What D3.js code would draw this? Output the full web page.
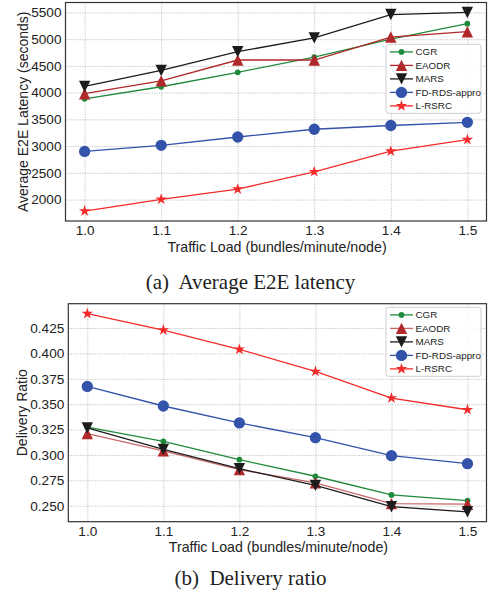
<!DOCTYPE html>
<html lang="en">
<head>
<meta charset="UTF-8">
<title>Latency and delivery ratio</title>
<script src="https://cdn.jsdelivr.net/npm/d3@7"></script>
<style>
  body { margin: 0; background: #fff; }
  svg { display: block; }
  text { fill: #222; }
</style>
</head>
<body>
<svg id="chart" width="488" height="595"></svg>
<script>
// x categories
const loads = [1.0, 1.1, 1.2, 1.3, 1.4, 1.5];
const seriesNames = ["CGR", "EAODR", "MARS", "FD-RDS-appro", "L-RSRC"];

// (a) average E2E latency, seconds
const latencyCGR   = [3885, 4110, 4380, 4665, 5000, 5290];
const latencyEAODR = [3980, 4220, 4610, 4610, 5040, 5140];
const latencyMARS  = [4115, 4415, 4765, 5025, 5460, 5500];
const latencyFD    = [2900, 3015, 3170, 3315, 3385, 3445];
const latencyLRSRC = [1785, 2005, 2195, 2520, 2905, 3120];
const latencyTicks = [2000, 2500, 3000, 3500, 4000, 4500, 5000, 5500];

// (b) delivery ratio
const ratioCGR   = [0.3273, 0.3134, 0.2953, 0.2790, 0.2606, 0.2550];
const ratioEAODR = [0.3210, 0.3040, 0.2855, 0.2725, 0.2520, 0.2515];
const ratioMARS  = [0.3267, 0.3055, 0.2865, 0.2700, 0.2490, 0.2440];
const ratioFD    = [0.3675, 0.3482, 0.3315, 0.3170, 0.2993, 0.2914];
const ratioLRSRC = [0.4392, 0.4230, 0.4040, 0.3822, 0.3560, 0.3445];
const ratioTicks = [0.250, 0.275, 0.300, 0.325, 0.350, 0.375, 0.400, 0.425];

// matplotlib style triangles (square bounding box)
const triUp = { draw(ctx, size) { const r = Math.sqrt(size) / 2;
  ctx.moveTo(0, -r); ctx.lineTo(r, r); ctx.lineTo(-r, r); ctx.closePath(); } };
const triDown = { draw(ctx, size) { const r = Math.sqrt(size) / 2;
  ctx.moveTo(0, r); ctx.lineTo(r, -r); ctx.lineTo(-r, -r); ctx.closePath(); } };

const styles = [
  { color: "#1f8a3b", type: d3.symbolCircle, size: 26 },
  { color: "#b0282a", type: triUp, size: 130 },
  { color: "#1c1c1c", type: triDown, size: 130 },
  { color: "#3353ab", type: d3.symbolCircle, size: 100 },
  { color: "#f42a2a", type: d3.symbolStar, size: 40 }
];

const svg = d3.select("#chart");
const font = "'Liberation Sans', Arial, sans-serif";

function panel(opt) {
  const { left, right, top, bottom } = opt.box;
  const all = opt.series.flat();
  const lo = d3.min(all), hi = d3.max(all), pad = (hi - lo) * 0.05;

  const x = d3.scaleLinear().domain([0.975, 1.525]).range([left, right]);
  const y = d3.scaleLinear().domain([lo - pad, hi + pad]).range([bottom, top]);

  const g = svg.append("g");

  // grid
  g.append("g").attr("transform", `translate(0,${bottom})`)
    .call(d3.axisBottom(x).tickValues(loads).tickSize(-(bottom - top)).tickFormat(""))
    .call(a => a.select(".domain").remove());
  g.append("g").attr("transform", `translate(${left},0)`)
    .call(d3.axisLeft(y).tickValues(opt.ticks).tickSize(-(right - left)).tickFormat(""))
    .call(a => a.select(".domain").remove());
  g.selectAll(".tick line").attr("stroke", "#b5b5b5").attr("stroke-width", 0.8)
    .attr("stroke-dasharray", "1.2,1.2");

  // tick labels
  const xa = g.append("g").attr("transform", `translate(0,${bottom})`)
    .call(d3.axisBottom(x).tickValues(loads).tickSize(0).tickPadding(4.5).tickFormat(d3.format(".1f")));
  const ya = g.append("g").attr("transform", `translate(${left},0)`)
    .call(d3.axisLeft(y).tickValues(opt.ticks).tickSize(0).tickPadding(4).tickFormat(opt.fmt));
  [xa, ya].forEach(a => {
    a.select(".domain").remove();
    a.selectAll("text").attr("font-family", font).attr("font-size", 13.6).attr("fill", "#222");
  });

  // lines and markers
  const line = d3.line().x((d, i) => x(loads[i])).y(d => y(d));
  opt.series.forEach((vals, s) => {
    const st = styles[s];
    g.append("path").datum(vals).attr("d", line).attr("fill", "none")
      .attr("stroke", st.color).attr("stroke-width", 1.3)
      .attr("stroke-opacity", opt.alpha && s === 1 ? 0.7 : 1);
    g.selectAll(null).data(vals).enter().append("path")
      .attr("transform", (d, i) => `translate(${x(loads[i])},${y(d)})`)
      .attr("d", d3.symbol().type(st.type).size(st.size))
      .attr("fill", st.color);
  });

  // frame
  g.append("rect").attr("x", left).attr("y", top)
    .attr("width", right - left).attr("height", bottom - top)
    .attr("fill", "none").attr("stroke", "#333").attr("stroke-width", 1.2);

  // axis titles
  g.append("text").attr("x", (left + right) / 2 + 1).attr("y", bottom + 30.5)
    .attr("text-anchor", "middle").attr("font-family", font).attr("font-size", 14.2)
    .text("Traffic Load (bundles/minute/node)");
  g.append("text")
    .attr("transform", `translate(${opt.ylabelX},${(top + bottom) / 2}) rotate(-90)`)
    .attr("text-anchor", "middle").attr("font-family", font).attr("font-size", 14)
    .text(opt.ylabel);

  // legend
  const lg = g.append("g").attr("transform", `translate(386,${opt.legendY})`);
  lg.append("rect").attr("width", 95).attr("height", 69).attr("rx", 2.5)
    .attr("fill", "#fff").attr("fill-opacity", 0.85).attr("stroke", "#cfcfcf");
  seriesNames.forEach((name, s) => {
    const st = styles[s];
    const row = lg.append("g").attr("transform", `translate(0,${7.6 + s * 13.5})`);
    row.append("line").attr("x1", 4).attr("x2", 27).attr("stroke", st.color).attr("stroke-width", 1.3)
      .attr("stroke-opacity", opt.alpha && s === 1 ? 0.7 : 1);
    row.append("path").attr("transform", "translate(15.5,0)")
      .attr("d", d3.symbol().type(st.type).size(st.size)).attr("fill", st.color);
    row.append("text").attr("x", 29.5).attr("dy", "0.35em")
      .attr("font-family", font).attr("font-size", 9.8).text(name);
  });

  // caption
  svg.append("text").attr("x", 250.5).attr("y", opt.captionY).attr("text-anchor", "middle")
    .attr("font-family", "'Liberation Serif', 'Times New Roman', serif").attr("font-size", 21)
    .attr("xml:space", "preserve")
    .text(opt.caption);
}

panel({
  box: { left: 65.5, right: 486.5, top: 2.5, bottom: 221 },
  series: [latencyCGR, latencyEAODR, latencyMARS, latencyFD, latencyLRSRC],
  ticks: latencyTicks, fmt: d3.format("d"),
  ylabel: "Average E2E Latency (seconds)", ylabelX: 28,
  legendY: 44.3, caption: "(a)  Average E2E latency", captionY: 289
});

panel({
  box: { left: 68.3, right: 486.5, top: 303.7, bottom: 521.7 },
  series: [ratioCGR, ratioEAODR, ratioMARS, ratioFD, ratioLRSRC],
  ticks: ratioTicks, fmt: d3.format(".3f"),
  ylabel: "Delivery Ratio", ylabelX: 27, alpha: true,
  legendY: 307.3, caption: "(b)  Delivery ratio", captionY: 585
});
</script>
</body>
</html>
